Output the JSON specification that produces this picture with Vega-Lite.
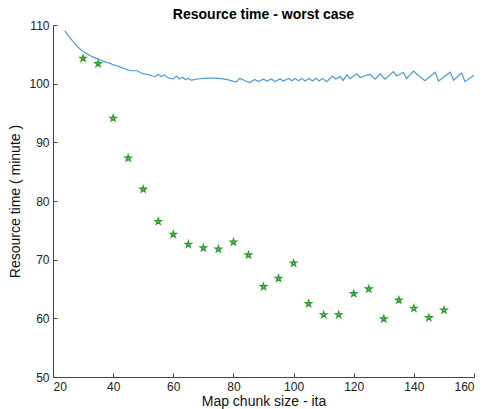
{
  "$schema": "https://vega.github.io/schema/vega-lite/v6.json",
  "width": 421,
  "height": 352,
  "autosize": {"type": "none"},
  "padding": {"left": 53, "top": 25, "right": 10, "bottom": 32},
  "title": {"text": "Resource time - worst case", "font": "Liberation Sans", "fontSize": 14, "fontWeight": "bold", "color": "#000000", "offset": -3, "anchor": "middle"},
  "config": {
    "view": {"stroke": null},
    "axis": {"grid": false, "domainColor": "#444444", "tickColor": "#444444", "labelFont": "Liberation Sans", "titleFont": "Liberation Sans", "labelColor": "#222222", "titleColor": "#111111", "labelFontSize": 12, "titleFontSize": 14, "titleFontWeight": "normal", "tickSize": -4, "tickWidth": 1, "labelPadding": 8}
  },
  "datasets": {
    "line": [
      {"x": 24, "y": 109.0}, {"x": 25, "y": 108.2}, {"x": 26, "y": 107.6}, {"x": 27, "y": 107.0}, {"x": 28, "y": 106.4},
      {"x": 29, "y": 105.9}, {"x": 30, "y": 105.5}, {"x": 31, "y": 105.2}, {"x": 32, "y": 104.9}, {"x": 33, "y": 104.6},
      {"x": 34, "y": 104.4}, {"x": 35, "y": 104.2}, {"x": 36, "y": 104.0}, {"x": 37, "y": 103.8}, {"x": 38, "y": 103.6},
      {"x": 39, "y": 103.5}, {"x": 40, "y": 103.2}, {"x": 41, "y": 103.1}, {"x": 42, "y": 102.9}, {"x": 43, "y": 102.7},
      {"x": 44, "y": 102.5}, {"x": 45, "y": 102.3}, {"x": 46, "y": 102.2}, {"x": 47, "y": 102.2}, {"x": 48, "y": 102.2},
      {"x": 49, "y": 101.9}, {"x": 50, "y": 101.7}, {"x": 51, "y": 101.6}, {"x": 52, "y": 101.5}, {"x": 53, "y": 101.3},
      {"x": 54, "y": 101.2}, {"x": 55, "y": 101.6}, {"x": 56, "y": 101.2}, {"x": 57, "y": 101.5}, {"x": 58, "y": 101.1},
      {"x": 59, "y": 100.9}, {"x": 60, "y": 100.8}, {"x": 61, "y": 101.3}, {"x": 62, "y": 100.8}, {"x": 63, "y": 101.1},
      {"x": 64, "y": 100.7}, {"x": 65, "y": 100.9}, {"x": 66, "y": 100.6}, {"x": 67, "y": 100.7}, {"x": 68, "y": 100.8},
      {"x": 70, "y": 100.9}, {"x": 72, "y": 100.95}, {"x": 74, "y": 100.95}, {"x": 76, "y": 100.85}, {"x": 78, "y": 100.7},
      {"x": 80, "y": 100.4}, {"x": 81, "y": 100.3}, {"x": 82, "y": 100.9}, {"x": 83, "y": 100.7}, {"x": 84, "y": 100.45},
      {"x": 85.5, "y": 100.2}, {"x": 87, "y": 100.7}, {"x": 88.3, "y": 100.35}, {"x": 90, "y": 100.8}, {"x": 91.1, "y": 100.45},
      {"x": 92.7, "y": 100.8}, {"x": 93.8, "y": 100.35}, {"x": 95.5, "y": 100.8}, {"x": 96.6, "y": 100.45}, {"x": 98.3, "y": 100.9},
      {"x": 99.4, "y": 100.5}, {"x": 100.5, "y": 100.9}, {"x": 101.6, "y": 100.5}, {"x": 102.7, "y": 100.9}, {"x": 103.8, "y": 100.45},
      {"x": 105.1, "y": 100.9}, {"x": 106.3, "y": 100.45}, {"x": 107.4, "y": 100.9}, {"x": 108.5, "y": 100.45}, {"x": 109.6, "y": 100.9},
      {"x": 111, "y": 100.35}, {"x": 112.9, "y": 101.3}, {"x": 114, "y": 100.8}, {"x": 115.5, "y": 101.2}, {"x": 116.5, "y": 100.55},
      {"x": 117.7, "y": 101.5}, {"x": 118.8, "y": 100.85}, {"x": 121, "y": 101.7}, {"x": 122.1, "y": 101.05}, {"x": 125.4, "y": 101.6},
      {"x": 127.1, "y": 100.75}, {"x": 128.8, "y": 101.65}, {"x": 130.4, "y": 100.75}, {"x": 133.2, "y": 102.05}, {"x": 134.3, "y": 101.3},
      {"x": 136.5, "y": 101.95}, {"x": 137.6, "y": 100.9}, {"x": 139.9, "y": 102.15}, {"x": 141, "y": 101.6}, {"x": 143.7, "y": 100.5},
      {"x": 147.1, "y": 101.95}, {"x": 148.2, "y": 100.45}, {"x": 152.1, "y": 101.95}, {"x": 153.2, "y": 100.6}, {"x": 155.9, "y": 101.8},
      {"x": 157, "y": 100.35}, {"x": 160, "y": 101.45}
    ],
    "points": [
      {"x": 30, "y": 104.3}, {"x": 35, "y": 103.4}, {"x": 40, "y": 94.1}, {"x": 45, "y": 87.3}, {"x": 50, "y": 82.0},
      {"x": 55, "y": 76.5}, {"x": 60, "y": 74.3}, {"x": 65, "y": 72.6}, {"x": 70, "y": 72.0}, {"x": 75, "y": 71.8},
      {"x": 80, "y": 73.0}, {"x": 85, "y": 70.8}, {"x": 90, "y": 65.4}, {"x": 95, "y": 66.8}, {"x": 100, "y": 69.4},
      {"x": 105, "y": 62.5}, {"x": 110, "y": 60.6}, {"x": 115, "y": 60.6}, {"x": 120, "y": 64.2}, {"x": 125, "y": 65.0},
      {"x": 130, "y": 59.9}, {"x": 135, "y": 63.1}, {"x": 140, "y": 61.7}, {"x": 145, "y": 60.1}, {"x": 150, "y": 61.4}
    ]
  },
  "encoding": {
    "x": {"field": "x", "type": "quantitative", "scale": {"domain": [20, 160], "nice": false, "zero": false},
          "axis": {"title": "Map chunk size - ita", "values": [20, 40, 60, 80, 100, 120, 140, 160], "titlePadding": 2}},
    "y": {"field": "y", "type": "quantitative", "scale": {"domain": [50, 110], "nice": false, "zero": false},
          "axis": {"title": "Resource time ( minute )", "values": [50, 60, 70, 80, 90, 100, 110], "titlePadding": 6}}
  },
  "layer": [
    {"data": {"name": "line"}, "mark": {"type": "line", "color": "#4f9ad8", "strokeWidth": 1.2, "clip": true}},
    {"data": {"name": "points"}, "mark": {"type": "point", "shape": "M0,-1L0.2245,-0.309L0.951,-0.309L0.363,0.118L0.588,0.809L0,0.382L-0.588,0.809L-0.363,0.118L-0.951,-0.309L-0.2245,-0.309Z", "size": 38, "filled": false, "stroke": "#2f9a2f", "strokeWidth": 1.4, "opacity": 1}}
  ]
}
